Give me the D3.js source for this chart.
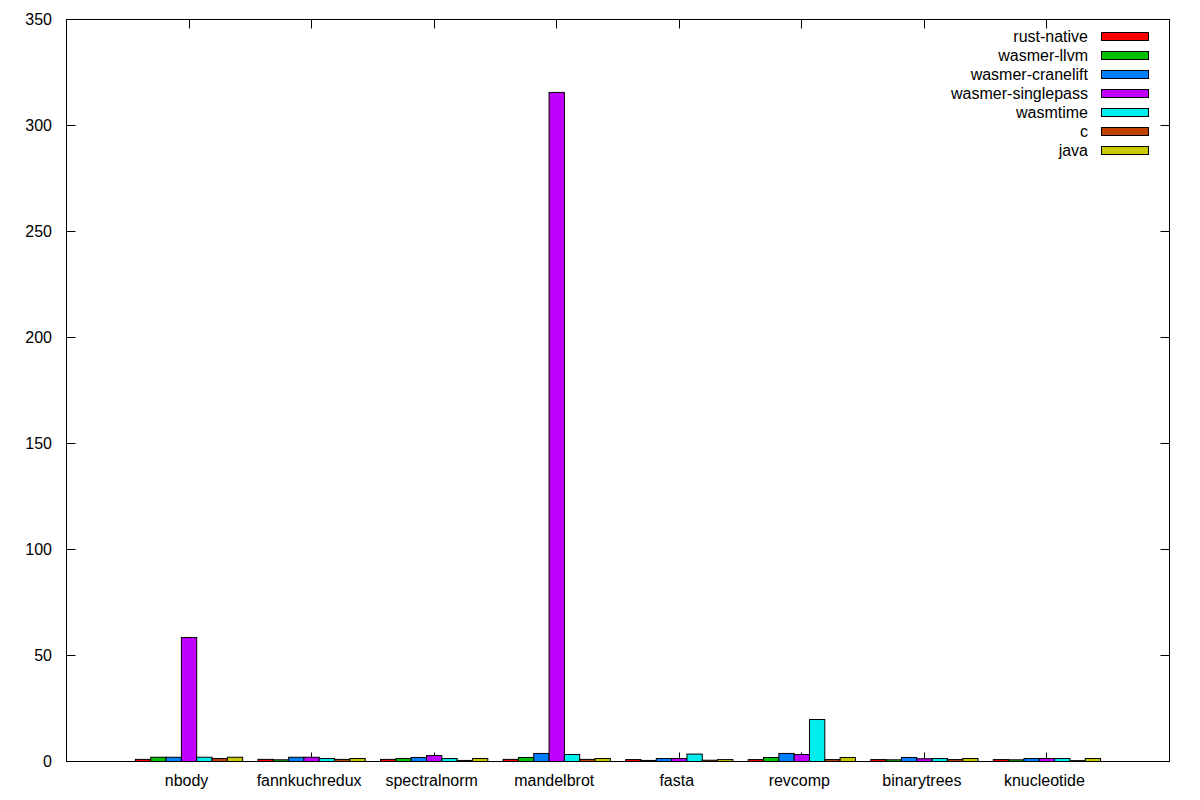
<!DOCTYPE html>
<html><head><meta charset="utf-8">
<script src="https://cdn.jsdelivr.net/npm/d3@7"></script>
<style>body{margin:0;background:#fff}svg{display:block}text{font-family:"Liberation Sans",Arial,sans-serif;font-size:16px;fill:#000}</style>
</head><body>
<svg id="c" width="1200" height="800"></svg>
<script>
const categories = ["nbody","fannkuchredux","spectralnorm","mandelbrot","fasta","revcomp","binarytrees","knucleotide"];
const seriesNames = ["rust-native","wasmer-llvm","wasmer-cranelift","wasmer-singlepass","wasmtime","c","java"];
const rustNative = [1.0,1.0,1.0,1.0,0.9,0.9,0.9,0.9];
const wasmerLlvm = [2.0,0.8,1.4,1.9,0.5,1.9,0.8,0.8];
const wasmerCranelift = [2.0,2.0,1.9,3.8,1.4,3.8,1.9,1.4];
const wasmerSinglepass = [58.5,2.0,2.8,315.6,1.4,3.3,1.3,1.4];
const wasmtime = [2.0,1.4,1.4,3.3,3.5,19.8,1.4,1.4];
const cLang = [1.4,1.0,0.5,1.0,0.6,0.9,0.9,0.4];
const java = [2.0,1.4,1.4,1.4,0.9,1.9,1.4,1.4];
const yTicks = [0,50,100,150,200,250,300,350];
const colors = ["#ff0000","#00c000","#0080ff","#c000ff","#00eeee","#c04000","#c8c800"];
const seriesValues = [rustNative,wasmerLlvm,wasmerCranelift,wasmerSinglepass,wasmtime,cLang,java];

const svg = d3.select("#c");
const L=66.5, R=1169.5, T=19.5, B=761.5;
const x = d3.scaleLinear().domain([-1, categories.length]).range([L, R]);
const y = d3.scaleLinear().domain([0, 350]).range([B, T]);
const bw = 1/8;
const tl = 9;

// ticks
const g = svg.append("g").attr("stroke","#000").attr("stroke-width",1);
yTicks.forEach(t=>{
  const yy = Math.round(y(t)-0.5)+0.5;
  g.append("line").attr("x1",L).attr("x2",L+tl).attr("y1",yy).attr("y2",yy);
  g.append("line").attr("x1",R-tl).attr("x2",R).attr("y1",yy).attr("y2",yy);
});
categories.forEach((c,i)=>{
  const xx = Math.round(x(i)-0.5)+0.5;
  g.append("line").attr("x1",xx).attr("x2",xx).attr("y1",B).attr("y2",B-tl);
  g.append("line").attr("x1",xx).attr("x2",xx).attr("y1",T).attr("y2",T+tl);
});

// bars
seriesValues.forEach((vals,s)=>{
  svg.append("g").selectAll("rect").data(vals).join("rect")
    .attr("x",(d,i)=>x(i+(s-3)*bw-bw/2))
    .attr("width",x(bw)-x(0))
    .attr("y",d=>y(d))
    .attr("height",d=>y(0)-y(d))
    .attr("fill",colors[s]).attr("stroke","#000").attr("stroke-width",1);
});

// frame
svg.append("rect").attr("x",L).attr("y",T).attr("width",R-L).attr("height",B-T)
  .attr("fill","none").attr("stroke","#000").attr("stroke-width",1);

// labels
yTicks.forEach(t=>{
  svg.append("text").attr("x",52).attr("y",y(t)+5).attr("text-anchor","end").text(t);
});
categories.forEach((c,i)=>{
  svg.append("text").attr("x",x(i)-2.5).attr("y",785.5).attr("text-anchor","middle").text(c);
});

// legend
seriesNames.forEach((n,s)=>{
  const cy = 36.5 + s*19;
  svg.append("text").attr("x",1088).attr("y",cy+5).attr("text-anchor","end").text(n);
  svg.append("rect").attr("x",1101.5).attr("y",cy-4).attr("width",47).attr("height",8)
    .attr("fill",colors[s]).attr("stroke","#000").attr("stroke-width",1);
});
</script>
</body></html>
